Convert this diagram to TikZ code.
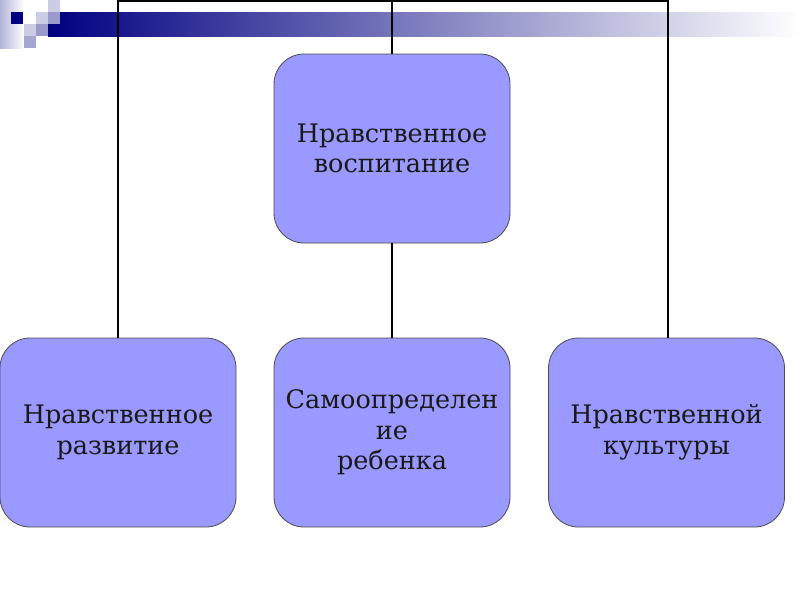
\documentclass[tikz,border=0pt]{standalone}
\usepackage{fontspec}
\setmainfont{DejaVu Serif}
\definecolor{boxfill}{HTML}{9999FF}
\definecolor{navy}{HTML}{000080}
\begin{document}
\begin{tikzpicture}[x=1pt,y=-1pt,
  box/.style={draw=black!70, line width=0.8pt, fill=boxfill, rounded corners=30pt,
    minimum width=236pt, minimum height=189pt, align=center, inner sep=0pt,
    font=\fontsize{25.5pt}{30.5pt}\selectfont, text=black!90},
  conn/.style={draw=black, line width=1.6pt}]
\useasboundingbox (0,0) rectangle (800,600);
% banner
\shade[left color=navy, right color=white, shading angle=90] (48,12) rectangle (800,36);
\fill[left color=navy!30, right color=white] (0,0) rectangle (24,48);
\fill[navy] (11,12) rectangle (23,24);
\fill[navy!20] (48,0) rectangle (60,12);
\fill[navy!20] (36,12) rectangle (48,24);
\fill[navy!40] (48,12) rectangle (60,24);
\fill[navy!20] (24,24) rectangle (36,36);
\fill[navy!40] (36,24) rectangle (48,36);
\fill[navy!35] (24,36) rectangle (36,48);
% nodes
\node[box] (top) at (392,148.5) {Нравственное\\воспитание};
\node[box] (b1) at (118,432.5) {Нравственное\\развитие};
\node[box] (b2) at (392,432.5) {Самоопределен\\ие\\ребенка};
\node[box] (b3) at (666.5,432.5) {Нравственной\\культуры};
\coordinate (tl) at (118,1);
\coordinate (tm) at (392,1);
\coordinate (tr) at (668,1);
% connectors
\draw[conn] (b1.north) -- (tl) -- (tr) -- (tr |- b3.north);
\draw[conn] (tm) -- (top.north);
\draw[conn] (top.south) -- (b2.north);
\end{tikzpicture}
\end{document}
